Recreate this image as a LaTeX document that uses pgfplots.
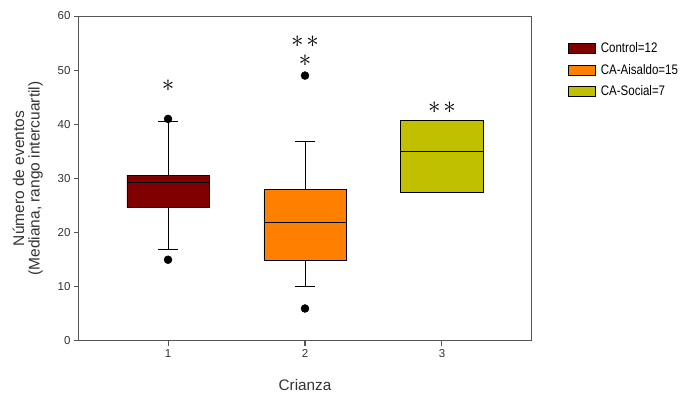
\documentclass[border=0pt]{standalone}
\usepackage{pgfplots}
\pgfplotsset{compat=1.18}
\usepackage{fontspec}
\setmainfont{Liberation Sans}
\definecolor{ctrl}{RGB}{128,0,0}
\definecolor{aisl}{RGB}{255,128,0}
\definecolor{soc}{RGB}{192,192,0}
\definecolor{axgray}{RGB}{85,85,85}
\pgfplotsset{
  wh/.style={forget plot, black, line width=0.8pt, mark=none},
  outl/.style={forget plot, only marks, mark=*, mark size=4pt, mark options={fill=black, draw=black}},
  boxst/.style={draw=black, line width=0.8pt, fill=#1, mark=none,
    legend image code/.code={\draw[fill=#1,draw=black,line width=0.8pt] (0pt,-5pt) rectangle (27pt,5pt); \path (30pt,0pt);}},
}
\begin{document}
\begin{tikzpicture}
\path[use as bounding box] (0pt,0pt) rectangle (681pt,396pt);
\begin{axis}[
  at={(79pt,55pt)}, anchor=south west,
  width=452pt, height=325pt, scale only axis,
  xmin=0.35, xmax=3.65, ymin=0, ymax=60,
  xtick={1,2,3}, ytick={0,10,...,60},
  xtick pos=left, ytick pos=left,
  tick align=outside, major tick length=5pt,
  axis line style={axgray, line width=1pt},
  tick style={axgray, line width=1pt},
  tick label style={font=\fontsize{11.5}{13}\selectfont, text=black!80},
  /pgf/number format/assume math mode=true,
  ylabel={Número de eventos\\(Mediana, rango intercuartil)},
  ylabel style={align=center, font=\fontsize{15.5}{15.5}\selectfont, text=black!80,
    at={(axis description cs:-0.072,0.5)}, anchor=south, rotate=0},
  xlabel={Crianza},
  xlabel style={font=\fontsize{15.3}{17}\selectfont, text=black!80,
    at={(axis description cs:0.5,-0.137)}, anchor=center},
  legend style={draw=none, fill=none, at={(1.075,0.93)}, anchor=north west,
    font=\fontsize{11.5}{13}\selectfont, row sep=6pt},
  legend cell align=left,
]
% whiskers
\addplot[wh] coordinates {(1,30.6) (1,40.6)};
\addplot[wh] coordinates {(0.93,40.6) (1.07,40.6)};
\addplot[wh] coordinates {(1,24.6) (1,16.9)};
\addplot[wh] coordinates {(0.93,16.9) (1.07,16.9)};
\addplot[wh] coordinates {(2,27.9) (2,36.9)};
\addplot[wh] coordinates {(1.93,36.9) (2.07,36.9)};
\addplot[wh] coordinates {(2,14.9) (2,10)};
\addplot[wh] coordinates {(1.93,10) (2.07,10)};
% boxes (Q1 to Q3)
\addplot[boxst=ctrl] coordinates {(0.7,24.6) (1.3,24.6) (1.3,30.6) (0.7,30.6) (0.7,24.6)};
\addlegendentry{\scalebox{1}[1.2]{Control=12}}
\addplot[boxst=aisl] coordinates {(1.7,14.9) (2.3,14.9) (2.3,27.9) (1.7,27.9) (1.7,14.9)};
\addlegendentry{\scalebox{1}[1.2]{CA-Aisaldo=15}}
\addplot[boxst=soc] coordinates {(2.7,27.4) (3.3,27.4) (3.3,40.7) (2.7,40.7) (2.7,27.4)};
\addlegendentry{\scalebox{1}[1.2]{CA-Social=7}}
% medians
\addplot[wh] coordinates {(0.7,29.3) (1.3,29.3)};
\addplot[wh] coordinates {(1.7,21.9) (2.3,21.9)};
\addplot[wh] coordinates {(2.7,35) (3.3,35)};
% outliers
\addplot[outl] coordinates {(1,41) (1,15) (2,49) (2,6)};
\node[font=\fontsize{26}{26}\selectfont] at (axis cs:1,47.1) {$\ast$};
\node[font=\fontsize{26}{19}\selectfont, align=center] at (axis cs:2,53.5) {$\ast$\hspace{3pt}$\ast$\\$\ast$};
\node[font=\fontsize{26}{26}\selectfont] at (axis cs:3,43) {$\ast$\hspace{3pt}$\ast$};
\end{axis}
\end{tikzpicture}
\end{document}
